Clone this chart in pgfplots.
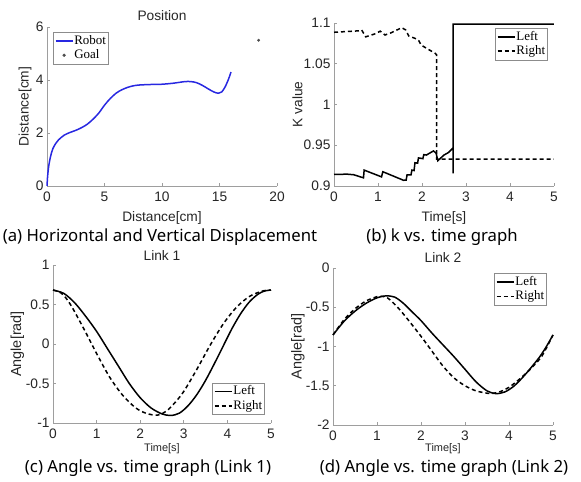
\documentclass[border=0pt]{standalone}
\usepackage{pgfplots}
\pgfplotsset{compat=1.18}
\usepackage{fontspec}
\setmainfont{Liberation Sans}
\newfontfamily\legfont{Liberation Serif}
\newfontfamily\capfont{Noto Sans}
\definecolor{robotblue}{RGB}{40,40,225}
\newcommand{\axfont}{\fontsize{13.8}{15}\selectfont}
\pgfplotsset{
  mstyle/.style={
    scale only axis,
    anchor=south west,
    axis x line=bottom,
    axis y line=left,
    axis line style={-, draw=black!38, line width=0.7bp},
    x axis line style={-},
    y axis line style={-},
    tick style={draw=black!38, line width=0.6bp},
    tick align=inside,
    major tick length=3bp,
    tick label style={font=\axfont, text=black!85},
    xticklabel style={yshift=-2.5bp},
    every axis title/.style={anchor=center, font=\axfont, text=black!85, inner sep=0pt},
    every axis x label/.style={anchor=center, font=\axfont, text=black!85, inner sep=0pt},
    every axis y label/.style={anchor=center, rotate=90, font=\axfont, text=black!85, inner sep=0pt},
    legend style={font=\legfont\fontsize{13}{14}\selectfont, draw=black!45, line width=0.6bp,
      inner xsep=1.5bp, inner ysep=1.5bp,
      nodes={inner sep=1bp, text height=9.3bp, text depth=3bp}, fill=white},
    legend cell align=left,
    clip=false,
  },
  solidl/.style={black, line width=1.5bp},
  dashedl/.style={black, line width=1.5bp, dash pattern=on 4bp off 3bp},
}
\begin{document}
\begin{tikzpicture}
\useasboundingbox (0,0) rectangle (581bp,482bp);
% (a)
\begin{axis}[mstyle, at={(47bp,296bp)}, width=230bp, height=159bp,
  xmin=0, xmax=20, ymin=0, ymax=6,
  xtick={0,5,10,15,20}, xticklabels={0,5,10,15,20},
  ytick={0,2,4,6}, yticklabels={0,2,4,6},
  title={Position}, title style={at={(axis description cs:0.5,1.069)}},
  xlabel={Distance[cm]}, xlabel style={at={(axis description cs:0.5,-0.201)}},
  ylabel={Distance[cm]}, ylabel style={at={(axis description cs:-0.0957,0.5)}},
  legend style={at={(axis description cs:0,1)}, anchor=north west, xshift=6bp, yshift=-5bp},
]
\addplot[robotblue, line width=1.5bp, smooth] coordinates {
(0,0) (0.05,0.35) (0.15,0.75) (0.3,1.1) (0.5,1.4) (0.75,1.6) (1,1.74) (1.5,1.92)
(2,2.02) (2.5,2.1) (3,2.2) (3.5,2.33) (4,2.52) (4.5,2.75) (5,3.05) (5.5,3.3)
(6,3.5) (6.5,3.63) (7,3.72) (7.5,3.78) (8,3.81) (9,3.83) (10,3.84) (11,3.88)
(12,3.94) (12.5,3.94) (13,3.9) (13.5,3.8) (14,3.67) (14.5,3.55) (14.9,3.5)
(15.2,3.55) (15.5,3.75) (15.8,4.05) (16,4.3)};
\addlegendentry{Robot}
\addplot[only marks, mark=*, mark size=1.3bp, black!70] coordinates {(18.4,5.5)};
\addlegendentry{Goal}
\end{axis}
% (b)
\begin{axis}[mstyle, at={(334bp,296bp)}, width=220bp, height=163bp,
  xmin=0, xmax=5, ymin=0.9, ymax=1.1,
  xtick={0,1,2,3,4,5}, xticklabels={0,1,2,3,4,5},
  ytick={0.9,0.95,1,1.05,1.1}, yticklabels={0.9,0.95,1,1.05,1.1},
  xlabel={Time[s]}, xlabel style={at={(axis description cs:0.5,-0.196)}},
  ylabel={K value}, ylabel style={at={(axis description cs:-0.166,0.5)}},
  legend style={at={(axis description cs:1,1)}, anchor=north east, xshift=-6bp, yshift=-5bp},
]
\addplot[solidl] coordinates {
(0,0.9142) (0.3,0.9145) (0.45,0.9138) (0.67,0.9100) (0.685,0.9195) (1.08,0.9112)
(1.11,0.9175) (1.58,0.9070) (1.64,0.9072) (1.66,0.9135) (1.75,0.9135) (1.77,0.9195)
(1.82,0.9190) (1.84,0.9285) (1.90,0.9280) (1.92,0.9345) (2.02,0.9335) (2.04,0.9385)
(2.10,0.9380) (2.26,0.9430) (2.32,0.9405) (2.36,0.9310) (2.50,0.9380) (2.60,0.9410)
(2.71,0.9470) (2.71,0.9155) (2.71,1.0985) (5,1.0985)};
\addlegendentry{Left}
\addplot[dashedl] coordinates {
(0,1.0886) (0.6,1.0905) (0.63,1.0914) (0.72,1.0830) (0.95,1.0870) (1.05,1.0900)
(1.16,1.0853) (1.3,1.0880) (1.54,1.0943) (1.63,1.0914) (1.70,1.0840) (1.84,1.0812)
(1.93,1.0780) (1.98,1.0730) (2.1,1.0690) (2.3,1.0628) (2.33,1.0610) (2.33,0.9330) (5,0.9330)};
\addlegendentry{Right}
\end{axis}
% (c)
\begin{axis}[mstyle, at={(53bp,59bp)}, width=218bp, height=158bp,
  xmin=0, xmax=5, ymin=-1, ymax=1,
  xtick={0,1,2,3,4,5}, xticklabels={0,1,2,3,4,5},
  ytick={-1,-0.5,0,0.5,1}, yticklabels={-1,-0.5,0,0.5,1},
  title={Link 1}, title style={at={(axis description cs:0.5,1.057)}},
  xlabel={Time[s]}, xlabel style={at={(axis description cs:0.5,-0.162)}, font=\fontsize{11}{12}\selectfont},
  ylabel={Angle[rad]}, ylabel style={at={(axis description cs:-0.163,0.5)}, font=\fontsize{14.5}{16}\selectfont},
  legend style={at={(axis description cs:1,0)}, anchor=south east, xshift=-6bp, yshift=8bp},
]
\addplot[solidl, smooth] coordinates {
(0,0.683) (0.25,0.64) (0.5,0.52) (0.75,0.35) (1.0,0.16) (1.25,-0.06) (1.5,-0.28)
(1.75,-0.5) (2.0,-0.68) (2.25,-0.81) (2.5,-0.885) (2.7,-0.905) (2.9,-0.875)
(3.1,-0.78) (3.3,-0.64) (3.5,-0.46) (3.7,-0.25) (3.9,-0.03) (4.1,0.19) (4.3,0.38)
(4.5,0.53) (4.7,0.63) (4.85,0.67) (5,0.683)};
\addlegendentry{Left}
\addplot[dashedl, smooth] coordinates {
(0,0.683) (0.2,0.64) (0.4,0.5) (0.7,0.2) (1.0,-0.12) (1.3,-0.42) (1.6,-0.65)
(1.9,-0.81) (2.15,-0.88) (2.4,-0.9) (2.6,-0.85) (2.8,-0.74) (3.0,-0.6) (3.3,-0.32)
(3.6,-0.02) (3.9,0.25) (4.2,0.46) (4.5,0.6) (4.8,0.67) (5,0.683)};
\addlegendentry{Right}
\end{axis}
% (d)
\begin{axis}[mstyle, at={(333bp,57bp)}, width=220bp, height=157bp,
  xmin=0, xmax=5, ymin=-2, ymax=0,
  xtick={0,1,2,3,4,5}, xticklabels={0,1,2,3,4,5},
  ytick={-2,-1.5,-1,-0.5,0}, yticklabels={-2,-1.5,-1,-0.5,0},
  title={Link 2}, title style={at={(axis description cs:0.5,1.064)}},
  xlabel={Time[s]}, xlabel style={at={(axis description cs:0.5,-0.15)}, font=\fontsize{11}{12}\selectfont},
  ylabel={Angle[rad]}, ylabel style={at={(axis description cs:-0.16,0.5)}, font=\fontsize{14.5}{16}\selectfont},
  legend style={at={(axis description cs:1,1)}, anchor=north east, xshift=-6bp, yshift=-5bp},
]
\addplot[solidl, smooth] coordinates {
(0,-0.853) (0.25,-0.68) (0.5,-0.55) (0.75,-0.45) (1.0,-0.38) (1.2,-0.355) (1.4,-0.37)
(1.6,-0.45) (1.8,-0.56) (2.0,-0.67) (2.25,-0.83) (2.5,-0.98) (2.75,-1.13) (3.0,-1.29)
(3.25,-1.45) (3.5,-1.565) (3.7,-1.6) (3.9,-1.58) (4.1,-1.51) (4.3,-1.40) (4.5,-1.27)
(4.7,-1.13) (4.85,-1.0) (5,-0.853)};
\addlegendentry{Left}
\addplot[dashedl, smooth] coordinates {
(0,-0.853) (0.25,-0.66) (0.5,-0.52) (0.75,-0.42) (1.0,-0.365) (1.1,-0.36) (1.25,-0.385)
(1.5,-0.52) (1.75,-0.69) (2.0,-0.87) (2.25,-1.06) (2.5,-1.25) (2.75,-1.40) (3.0,-1.50)
(3.25,-1.565) (3.5,-1.595) (3.6,-1.6) (3.8,-1.575) (4.0,-1.52) (4.25,-1.41) (4.5,-1.28)
(4.75,-1.12) (5,-0.853)};
\addlegendentry{Right}
\end{axis}
% captions
\node[font=\capfont\fontsize{16.8}{19}\selectfont, inner sep=0pt] at (160bp,245bp) {(a) Horizontal and Vertical Displacement};
\node[font=\capfont\fontsize{16.8}{19}\selectfont, inner sep=0pt] at (442bp,245bp) {(b) k vs. time graph};
\node[font=\capfont\fontsize{16.8}{19}\selectfont, inner sep=0pt] at (148bp,14bp) {(c) Angle vs. time graph (Link 1)};
\node[font=\capfont\fontsize{16.8}{19}\selectfont, inner sep=0pt] at (444bp,14bp) {(d) Angle vs. time graph (Link 2)};
\end{tikzpicture}
\end{document}
